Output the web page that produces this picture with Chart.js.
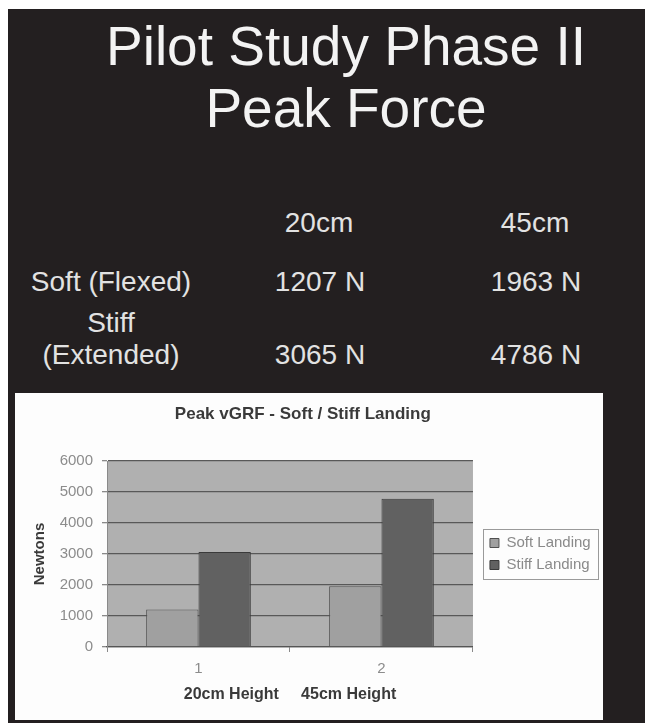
<!DOCTYPE html>
<html>
<head>
<meta charset="utf-8">
<title>Pilot Study Phase II - Peak Force</title>
<script src="https://cdn.jsdelivr.net/npm/chart.js@4/dist/chart.umd.min.js"></script>
<style>
  html, body { margin: 0; padding: 0; background: #ffffff; }
  body { width: 645px; height: 723px; position: relative; overflow: hidden;
         font-family: "Liberation Sans", Arial, sans-serif; }
  #slide { position: absolute; left: 8px; top: 9px; right: 0; bottom: 0; background: #231f20; }
  .t { position: absolute; white-space: nowrap; text-align: center; color: #f3f3f3; }
  .head { font-size: 55px; line-height: 62px; width: 620px; }
  .cell { font-size: 28px; line-height: 28px; width: 220px; color: #e2e2e2; }
  #panel { position: absolute; left: 15px; top: 393px; width: 588px; height: 327px; background: #fdfdfd; }
  #chart { display: block; }
</style>
</head>
<body>
<div id="slide"></div>
<div id="panel"><canvas id="chart" width="588" height="327"></canvas></div>
<script>
// Slide heading and summary table
const titleLines = ['Pilot Study Phase II', 'Peak Force'];
const heightLabels = ['20cm', '45cm'];
const landingRows = [['Soft (Flexed)'], ['Stiff', '(Extended)']];

// Peak vertical ground reaction force (N) per drop height
const categoryTicks = ['1', '2'];
const seriesNames = ['Soft Landing', 'Stiff Landing'];
const softLanding = [1207, 1963];
const stiffLanding = [3065, 4786];
const yTicks = [0, 1000, 2000, 3000, 4000, 5000, 6000];

const FONT = "'Liberation Sans', Arial, sans-serif";

function place(text, cls, cx, top) {
  const el = document.createElement('div');
  el.className = 't ' + cls;
  el.textContent = text;
  document.body.appendChild(el);
  el.style.left = (cx - el.offsetWidth / 2) + 'px';
  el.style.top = top + 'px';
  return el;
}

// heading: two centred lines
titleLines.forEach((line, i) => place(line, 'head', 346, 15 + i * 62));

// table: header row, then one row per landing style
const colCenters = [320, 536];
const rowBaselines = [292, 365];
const BASE = 23.6; // baseline offset inside a 28px line box
heightLabels.forEach((h, i) => place(h, 'cell', colCenters[i] - 1, 233 - BASE));
const rowValues = [softLanding, stiffLanding];
landingRows.forEach((lines, r) => {
  const last = rowBaselines[r];
  lines.forEach((txt, k) => place(txt, 'cell', 111, last - (lines.length - 1 - k) * 32 - BASE));
  rowValues[r].forEach((v, c) => place(v + ' N', 'cell', colCenters[c], last - BASE));
});

// grey plot-area fill behind the bars
const plotBackground = {
  id: 'plotBackground',
  beforeDraw(chart) {
    const {ctx, chartArea: a} = chart;
    ctx.save();
    ctx.fillStyle = '#b0b0b0';
    ctx.fillRect(a.left, a.top, a.right - a.left, a.bottom - a.top);
    ctx.restore();
  }
};

// legend sits a little away from the plot area, inside a thin frame
const legendFrame = {
  id: 'legendFrame',
  afterLayout(chart) {
    const lg = chart.legend;
    if (lg) { lg.left += 10; lg.right += 10; }
  },
  afterDraw(chart) {
    const lg = chart.legend;
    if (!lg || !lg.legendHitBoxes || !lg.legendHitBoxes.length) return;
    const boxes = lg.legendHitBoxes;
    const left = Math.min(...boxes.map(b => b.left)) - 7;
    const right = Math.max(...boxes.map(b => b.left + b.width)) + 7;
    const top = Math.min(...boxes.map(b => b.top)) - 7;
    const bottom = Math.max(...boxes.map(b => b.top + b.height)) + 6;
    const ctx = chart.ctx;
    ctx.save();
    ctx.strokeStyle = '#9a9a9a';
    ctx.lineWidth = 1;
    ctx.strokeRect(Math.round(left) + 0.5, Math.round(top) + 0.5, Math.round(right - left), Math.round(bottom - top));
    ctx.restore();
  }
};

Chart.defaults.font.family = FONT;

new Chart(document.getElementById('chart'), {
  type: 'bar',
  data: {
    labels: categoryTicks,
    datasets: [
      { label: seriesNames[0], data: softLanding, backgroundColor: '#a0a0a0', borderColor: '#505050', borderWidth: 1 },
      { label: seriesNames[1], data: stiffLanding, backgroundColor: '#616161', borderColor: '#3a3a3a', borderWidth: 1 }
    ]
  },
  options: {
    responsive: false,
    animation: false,
    devicePixelRatio: 1,
    layout: { padding: { left: 0, right: 12.3, top: 0, bottom: 0 } },
    datasets: { bar: { categoryPercentage: 0.572, barPercentage: 1 } },
    plugins: {
      title: {
        display: true,
        text: 'Peak vGRF - Soft / Stiff Landing',
        color: '#3a3a3a',
        font: { size: 17, weight: 'bold' },
        padding: { top: 10.8, bottom: 36.8 }
      },
      legend: {
        position: 'right',
        fullSize: false,
        labels: { color: '#8a8a8a', font: { size: 15 }, boxWidth: 9, boxHeight: 9, padding: 7 }
      },
      tooltip: { enabled: false }
    },
    scales: {
      x: {
        grid: { display: true, drawOnChartArea: false, drawTicks: true, tickLength: 5, color: '#8a8a8a', offset: true },
        border: { color: '#555555', width: 1.3 },
        ticks: { color: '#8c8c8c', font: { size: 15 }, padding: 8 },
        title: {
          display: true,
          text: heightLabels.map(h => h + ' Height').join('     '),
          color: '#3a3a3a',
          font: { size: 16, weight: 'bold' },
          padding: { top: 8.4, bottom: 15.4 }
        },
        afterFit(scale) { scale.height = 73; }
      },
      y: {
        min: 0,
        max: 6000,
        afterBuildTicks(scale) { scale.ticks = yTicks.map(v => ({ value: v })); },
        ticks: { color: '#8c8c8c', font: { size: 15 }, padding: 9, callback: v => String(v) },
        grid: { color: '#585858', lineWidth: 1.3, tickLength: 5, tickColor: '#8a8a8a' },
        border: { color: '#8a8a8a' },
        title: {
          display: true,
          text: 'Newtons',
          color: '#3a3a3a',
          font: { size: 15, weight: 'bold' },
          padding: { top: 16, bottom: 0 }
        },
        afterFit(scale) { scale.width = 92; }
      }
    }
  },
  plugins: [plotBackground, legendFrame]
});
</script>
</body>
</html>
